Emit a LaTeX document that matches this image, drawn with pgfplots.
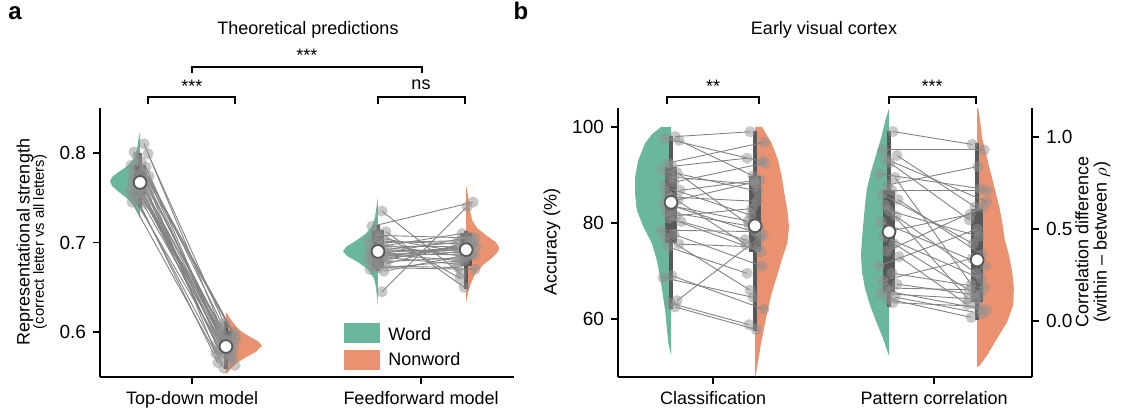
\documentclass[border=0pt]{standalone}
\usepackage{fontspec}
\setmainfont{Liberation Sans}
\usepackage{pgfplots}
\usepackage{pgfplotstable}
\pgfplotsset{compat=1.18}

\definecolor{wordcol}{RGB}{106,183,157}
\definecolor{nonwcol}{RGB}{234,146,111}
\definecolor{boxgray}{RGB}{88,88,88}
\definecolor{ptgray}{RGB}{145,145,145}
\definecolor{linegray}{RGB}{130,130,130}
\newcommand{\fs}[1]{\fontsize{#1}{#1}\selectfont}

% subject values: word, nonword, horizontal jitter in px
\pgfplotstableread{
w n jw jn
0.810 0.605 4 -5
0.801 0.600 -6 7
0.799 0.610 8 -2
0.795 0.596 -3 9
0.790 0.598 1 -8
0.786 0.590 -9 3
0.784 0.594 6 -6
0.782 0.588 -1 1
0.779 0.592 3 10
0.776 0.586 -7 -4
0.774 0.589 9 5
0.772 0.585 -4 -9
0.770 0.583 0 2
0.768 0.587 7 -1
0.767 0.584 -8 8
0.766 0.580 2 -7
0.764 0.582 -5 4
0.762 0.578 5 -3
0.760 0.579 -2 6
0.758 0.576 10 -10
0.757 0.575 -10 0
0.755 0.572 3 7
0.753 0.570 -6 -5
0.751 0.568 8 3
0.749 0.566 -3 -8
0.747 0.563 1 9
0.745 0.560 -8 -2
0.743 0.574 6 5
0.760 0.581 -1 -6
0.770 0.591 4 1
}\tdtab
\pgfplotstableread{
w n jw jn
0.735 0.665 4 -5
0.718 0.745 -6 7
0.712 0.650 8 -2
0.708 0.705 -3 9
0.705 0.690 1 -8
0.702 0.698 -9 3
0.700 0.702 6 -6
0.698 0.684 -1 1
0.696 0.695 3 10
0.694 0.710 -7 -4
0.692 0.688 9 5
0.691 0.700 -4 -9
0.690 0.692 0 2
0.689 0.694 7 -1
0.688 0.686 -8 8
0.687 0.680 2 -7
0.686 0.706 -5 4
0.685 0.693 5 -3
0.684 0.697 -2 6
0.683 0.676 10 -10
0.682 0.690 -10 0
0.680 0.699 3 7
0.678 0.683 -6 -5
0.676 0.701 8 3
0.674 0.672 -3 -8
0.672 0.670 1 9
0.670 0.680 -8 -2
0.668 0.687 6 5
0.712 0.660 -1 -6
0.645 0.740 4 1
}\fftab
\pgfplotstableread{
w n jw jn
98.0 99.0 4 -5
97.6 92.8 -6 7
97.2 89.8 8 -2
92.5 96.8 -3 9
91.8 93.5 1 -8
91.0 86.6 -9 3
90.5 79.6 6 -6
89.6 88.0 -1 1
88.5 92.5 3 10
87.6 81.6 -7 -4
86.8 89.0 9 5
86.0 75.5 -4 -9
85.4 84.5 0 2
84.8 88.5 7 -1
84.2 77.5 -8 8
83.5 80.4 2 -7
82.4 79.0 -5 4
81.5 83.0 5 -3
81.0 74.0 -2 6
80.3 76.5 10 -10
78.5 78.2 -10 0
77.6 71.0 3 7
77.0 66.0 -6 -5
75.6 75.0 8 3
75.0 69.5 -3 -8
69.0 62.0 1 9
68.6 64.5 -8 -2
63.8 77.0 6 5
63.3 58.8 -1 -6
62.5 57.8 4 1
}\cltab
\pgfplotstableread{
w n jw jn
1.03 0.96 4 -5
0.93 0.93 -6 7
0.90 0.62 8 -2
0.88 0.65 -3 9
0.86 0.55 1 -8
0.80 0.72 -9 3
0.78 0.20 6 -6
0.74 0.84 -1 1
0.71 0.71 3 10
0.69 0.42 -7 -4
0.66 0.36 9 5
0.63 0.12 -4 -9
0.60 0.46 0 2
0.57 0.26 7 -1
0.54 0.30 -8 8
0.49 0.58 2 -7
0.46 0.23 -5 4
0.42 0.15 5 -3
0.38 0.62 -2 6
0.35 0.09 10 -10
0.30 0.50 -10 0
0.26 0.18 3 7
0.22 0.34 -6 -5
0.20 0.14 8 3
0.18 0.17 -3 -8
0.16 0.06 1 9
0.15 0.12 -8 -2
0.13 0.04 6 5
0.12 0.02 -1 -6
0.10 0.08 4 1
}\patab

% violin outlines: value, half width in px
\pgfplotstableread{
v w
0.727 0
0.735 3
0.742 7
0.750 14
0.757 22
0.763 28
0.768 30
0.773 28
0.779 21
0.785 13
0.792 7
0.800 4
0.808 2.5
0.816 1.5
0.824 0
}\vtdw
\pgfplotstableread{
v w
0.553 0
0.558 4
0.565 10
0.572 20
0.578 30
0.585 36
0.590 32
0.596 22
0.602 14
0.608 9
0.614 5
0.619 2
0.622 0
}\vtdn
\pgfplotstableread{
v w
0.629 0
0.640 1
0.650 2
0.660 4
0.670 10
0.678 20
0.685 31
0.690 35
0.695 32
0.702 22
0.710 12
0.718 6
0.728 3
0.740 1.5
0.750 0
}\vffw
\pgfplotstableread{
v w
0.633 0
0.645 2
0.655 5
0.665 9
0.675 17
0.684 27
0.690 32
0.694 33
0.700 30
0.708 20
0.716 11
0.725 6
0.735 4
0.745 3
0.755 1.5
0.763 0
}\vffn
\pgfplotstableread{
v w
52.5 0
54.9 2.7
61.9 6
68.8 11
72.3 14.3
75.8 19.3
79.2 27.7
82.7 34.3
86.2 36
89.6 36
93.1 32.7
96.6 26
98.5 19
100 10
100 0
}\vclw
\pgfplotstableread{
v w
48.0 0
48.0 0.5
51.5 3.3
54.9 6
58.4 9.3
61.9 12.7
65.4 16.7
68.8 21.7
72.3 26.7
75.8 32.3
79.2 34
82.7 32.3
86.2 29.3
89.6 26.7
93.1 23
96.6 16.7
100 7
100 0
}\vcln
\pgfplotstableread{
v w
-0.190 0
-0.150 2.5
-0.094 6
-0.004 12.7
0.087 19
0.178 24
0.268 27
0.359 28
0.449 27
0.540 25.5
0.630 24
0.721 22
0.811 18
0.902 13
0.993 8
1.083 4
1.120 2
1.156 0
}\vpaw
\pgfplotstableread{
v w
-0.248 0
-0.248 1.7
-0.185 10
-0.094 20
-0.004 30
0.087 36
0.178 36.7
0.268 35
0.359 31.7
0.449 27.3
0.540 25
0.630 21.7
0.811 13.3
0.993 5
1.083 3
1.156 1
1.156 0
}\vpan

% #1 centre, #2 + or -, #3 px per unit, #4 table, #5 colour
\newcommand{\halfviolin}[5]{%
  \addplot[fill=#5, draw=none] table[x expr={#1 #2 \thisrow{w}/#3}, y=v] {#4};}
% #1 centre, #2 low whisker, #3 q1, #4 q3, #5 high whisker
\newcommand{\boxw}[5]{%
  \addplot[boxgray, line width=2pt] coordinates {(#1,#2) (#1,#5)};
  \addplot[boxgray, line width=6pt] coordinates {(#1,#3) (#1,#4)};}
\newcommand{\med}[2]{%
  \addplot[only marks, mark=*, mark size=3.2pt,
    mark options={fill=white, draw=boxgray, line width=0.9pt}] coordinates {(#1,#2)};}
% #1 table, #2 word centre, #3 nonword centre, #4 px per unit
\newcommand{\pairs}[4]{%
  \addplot[linegray, line width=0.45pt,
    quiver={u={#3-(#2)+(\thisrow{jn}-\thisrow{jw})/#4}, v={\thisrow{n}-\thisrow{w}}}]
    table[x expr={#2+\thisrow{jw}/#4}, y=w] {#1};
  \addplot[pts] table[x expr={#2+\thisrow{jw}/#4}, y=w] {#1};
  \addplot[pts] table[x expr={#3+\thisrow{jn}/#4}, y=n] {#1};}

\pgfplotsset{
  pts/.style={only marks, mark=*, mark size=2.8pt, color=ptgray,
    mark options={ptgray, draw opacity=0, fill opacity=0.5}},
  panel/.style={scale only axis, width=207pt, height=134.5pt, clip=false,
    axis line style={line width=1pt},
    tick style={black, line width=0.75pt},
    major tick length=3.5pt,
    tick label style={font=\fs{9.5}},
    /pgf/number format/assume math mode=true,
    xtick={0,1}},
}

\begin{document}
\begin{tikzpicture}
\useasboundingbox (0,0) rectangle (562pt,205pt);

% panel a
\begin{axis}[panel, at={(50pt,16.5pt)},
  axis x line*=bottom, axis y line*=left, tick align=outside,
  xmin=-0.402, xmax=1.406,
  xticklabels={Top-down model, Feedforward model},
  x tick label style={font=\fs{9}},
  ymin=0.55, ymax=0.85, ytick={0.6,0.7,0.8},
  yticklabel style={/pgf/number format/.cd, fixed, fixed zerofill, precision=1}]
\halfviolin{-0.227}{-}{229}{\vtdw}{wordcol}
\halfviolin{0.148}{+}{229}{\vtdn}{nonwcol}
\halfviolin{0.812}{-}{229}{\vffw}{wordcol}
\halfviolin{1.197}{+}{229}{\vffn}{nonwcol}
\boxw{-0.227}{0.740}{0.753}{0.786}{0.800}
\boxw{0.148}{0.559}{0.576}{0.601}{0.612}
\boxw{0.812}{0.668}{0.672}{0.714}{0.720}
\boxw{1.197}{0.648}{0.674}{0.711}{0.713}
\pairs{\tdtab}{-0.227}{0.148}{229}
\pairs{\fftab}{0.812}{1.197}{229}
\med{-0.227}{0.767}
\med{0.148}{0.584}
\med{0.812}{0.690}
\med{1.197}{0.692}
\end{axis}

% panel b, classification on the left scale
\begin{axis}[panel, at={(309pt,16.5pt)},
  axis x line*=bottom, axis y line*=left, tick align=outside,
  xmin=-0.430, xmax=1.443,
  xticklabels={Classification, Pattern correlation},
  x tick label style={font=\fs{9}},
  ymin=47.9, ymax=103.96, ytick={60,80,100}]
\halfviolin{-0.19}{-}{221}{\vclw}{wordcol}
\halfviolin{0.19}{+}{221}{\vcln}{nonwcol}
\boxw{-0.19}{62.0}{75.8}{91.7}{98.1}
\boxw{0.19}{57.4}{74.0}{89.8}{99.2}
\pairs{\cltab}{-0.19}{0.19}{221}
\med{-0.19}{84.3}
\med{0.19}{79.4}
\end{axis}

% panel b, pattern correlation on the right scale
\begin{axis}[panel, at={(309pt,16.5pt)},
  axis x line=none, axis y line*=right, tick align=outside,
  xmin=-0.430, xmax=1.443,
  ymin=-0.304, ymax=1.158, ytick={0,0.5,1},
  yticklabel style={/pgf/number format/.cd, fixed, fixed zerofill, precision=1}]
\halfviolin{0.796}{-}{221}{\vpaw}{wordcol}
\halfviolin{1.195}{+}{221}{\vpan}{nonwcol}
\boxw{0.796}{0.078}{0.159}{0.712}{1.033}
\boxw{1.195}{0.005}{0.105}{0.609}{0.966}
\pairs{\patab}{0.796}{1.195}{221}
\med{0.796}{0.485}
\med{1.195}{0.332}
\end{axis}

% labels and significance brackets, in px from the top left
\begin{scope}[x=0.5pt, y=-0.5pt, shift={(0pt,205pt)}]
\node[anchor=base, font=\bfseries\fs{12}] at (15,20) {a};
\node[anchor=base, font=\bfseries\fs{12}] at (521,20) {b};
\node[anchor=base, font=\fs{9}] at (308,34.5) {Theoretical predictions};
\node[anchor=base, font=\fs{9}] at (824,34.5) {Early visual cortex};

\draw[line width=0.75pt] (192,73) -- (192,67) -- (422,67) -- (422,73);
\node[anchor=base, font=\fs{9}] at (307,62) {***};
\draw[line width=0.75pt] (148,104) -- (148,97) -- (235,97) -- (235,104);
\node[anchor=base, font=\fs{9}] at (192,93) {***};
\draw[line width=0.75pt] (378,104) -- (378,97) -- (465,97) -- (465,104);
\node[anchor=base, font=\fs{9}] at (421,90) {ns};
\draw[line width=0.75pt] (667,104) -- (667,97) -- (759,97) -- (759,104);
\node[anchor=base, font=\fs{9}] at (713,93) {**};
\draw[line width=0.75pt] (889,104) -- (889,97) -- (976,97) -- (976,104);
\node[anchor=base, font=\fs{9}] at (932,93) {***};

\node[rotate=90, font=\fs{9}] at (25,242) {Representational strength};
\node[rotate=90, font=\fs{7.4}] at (40,242) {(correct letter vs all letters)};
\node[rotate=90, font=\fs{9}] at (552,242) {Accuracy (\%)};
\node[rotate=90, font=\fs{9}] at (1082,242) {Correlation difference};
\node[rotate=90, font=\fs{9}] at (1102,242) {(within \textendash{} between $\rho$)};

\fill[wordcol] (344,323) rectangle (380,343);
\fill[nonwcol] (344,350) rectangle (380,370);
\node[anchor=base west, inner sep=0pt, font=\fs{9}] at (388,341) {Word};
\node[anchor=base west, inner sep=0pt, font=\fs{9}] at (388,366) {Nonword};
\end{scope}
\end{tikzpicture}
\end{document}
